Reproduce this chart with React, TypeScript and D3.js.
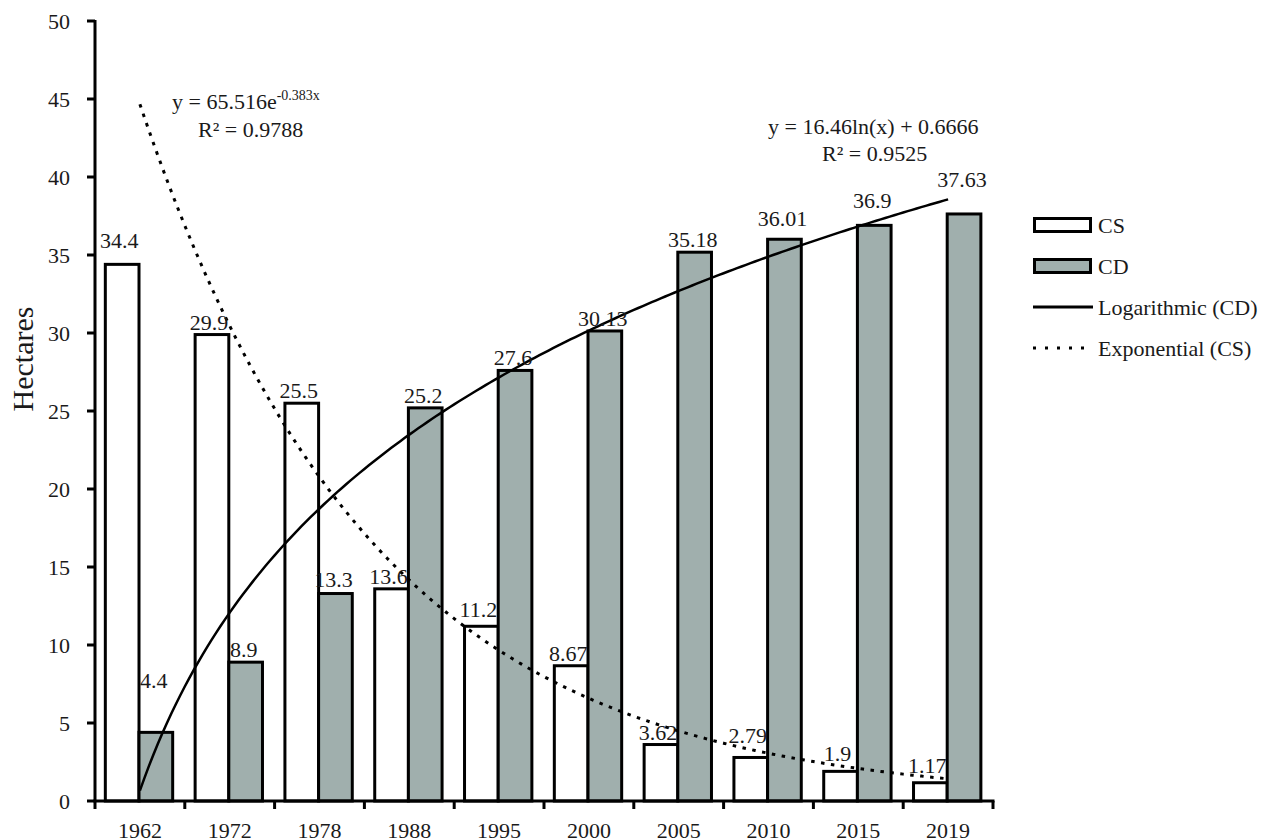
import React from "react";
import * as d3 from "d3";

// Land area (hectares) by survey year
const years = ["1962", "1972", "1978", "1988", "1995", "2000", "2005", "2010", "2015", "2019"];
const csValues = [34.4, 29.9, 25.5, 13.6, 11.2, 8.67, 3.62, 2.79, 1.9, 1.17];
const cdValues = [4.4, 8.9, 13.3, 25.2, 27.6, 30.13, 35.18, 36.01, 36.9, 37.63];
const csLabels = ["34.4", "29.9", "25.5", "13.6", "11.2", "8.67", "3.62", "2.79", "1.9", "1.17"];
const cdLabels = ["4.4", "8.9", "13.3", "25.2", "27.6", "30.13", "35.18", "36.01", "36.9", "37.63"];
const yTicks = [0, 5, 10, 15, 20, 25, 30, 35, 40, 45, 50];

// Fitted trend lines (x = category index, 1-based)
const logCoef = { a: 16.46, b: 0.6666 };
const expCoef = { a: 65.516, k: -0.383 };

// Extra lift (px) applied to a few value labels so they clear the trend lines
const csLabelLift: Record<string, number> = { "1962": 11, "1995": 4, "2010": 9, "2015": 5, "2019": 5 };
const cdLabelLift: Record<string, number> = { "1962": 39, "1978": 2, "2010": 8, "2015": 12, "2019": 22 };

const W = 1261;
const H = 840;
const left = 95;
const right = 993;
const top = 21;
const bottom = 801;
const FONT = "'Liberation Serif', 'Times New Roman', serif";
const TXT = "#1a1a1a";
const CD_FILL = "#a0afad";

export default function App() {
  const x = d3.scaleBand<string>().domain(years).range([left, right]).paddingInner(0).paddingOuter(0);
  const bw = x.bandwidth();
  const y = d3.scaleLinear().domain([0, 50]).range([bottom, top]);
  const xc = d3.scaleLinear().domain([0.5, years.length + 0.5]).range([left, right]);

  const barW = bw * 0.375;
  const csX = (yr: string) => (x(yr) as number) + bw * 0.115;
  const cdX = (yr: string) => (x(yr) as number) + bw * 0.49;

  const ts = d3.range(1, years.length + 0.0001, 0.05);
  const line = d3
    .line<number>()
    .x((t) => xc(t))
    .y((t) => y(0) as number);
  const logPath = d3
    .line<number>()
    .x((t) => xc(t))
    .y((t) => y(logCoef.a * Math.log(t) + logCoef.b))(ts);
  const expPath = d3
    .line<number>()
    .x((t) => xc(t))
    .y((t) => y(expCoef.a * Math.exp(expCoef.k * t)))(ts);
  void line;

  const legendX = 1033;
  const legendW = 59;
  const legendRows = [225, 266, 307, 348];

  return (
    <svg
      width={W}
      height={H}
      style={{ position: "absolute", left: 0, top: 0, background: "#fff" }}
      fontFamily={FONT}
    >
      {/* bars */}
      {years.map((yr, i) => (
        <g key={yr}>
          <rect
            x={csX(yr)}
            y={y(csValues[i])}
            width={barW}
            height={bottom - y(csValues[i])}
            fill="#fff"
            stroke="#000"
            strokeWidth={3}
          />
          <rect
            x={cdX(yr)}
            y={y(cdValues[i])}
            width={barW}
            height={bottom - y(cdValues[i])}
            fill={CD_FILL}
            stroke="#000"
            strokeWidth={3}
          />
        </g>
      ))}

      {/* trend lines */}
      <path d={logPath || ""} fill="none" stroke="#000" strokeWidth={2.5} />
      <path
        d={expPath || ""}
        fill="none"
        stroke="#000"
        strokeWidth={3}
        strokeDasharray="3.5,6.5"
      />

      {/* value labels */}
      {years.map((yr, i) => (
        <g key={"l" + yr} fontSize={22} fill={TXT} textAnchor="middle">
          <text x={csX(yr) + barW / 2 - 3} y={y(csValues[i]) - 5 - (csLabelLift[yr] || 0)}>
            {csLabels[i]}
          </text>
          <text x={cdX(yr) + barW / 2 - 2} y={y(cdValues[i]) - 5 - (cdLabelLift[yr] || 0)}>
            {cdLabels[i]}
          </text>
        </g>
      ))}

      {/* y axis */}
      <line x1={left} x2={left} y1={top - 1} y2={bottom + 1} stroke="#000" strokeWidth={3} />
      {yTicks.map((t) => (
        <g key={t}>
          <line x1={left - 8} x2={left} y1={y(t)} y2={y(t)} stroke="#000" strokeWidth={3} />
          <text
            x={70}
            y={y(t)}
            dy="0.35em"
            fontSize={22}
            fill={TXT}
            textAnchor="end"
          >
            {t}
          </text>
        </g>
      ))}
      <text
        transform={`translate(33, 359) rotate(-90)`}
        fontSize={30}
        fill={TXT}
        textAnchor="middle"
      >
        Hectares
      </text>

      {/* x axis */}
      <line x1={left - 1.5} x2={right + 1.5} y1={bottom} y2={bottom} stroke="#000" strokeWidth={3} />
      {[...years.map((yr) => x(yr) as number), right].map((px, i) => (
        <line key={"t" + i} x1={px} x2={px} y1={bottom} y2={bottom + 8} stroke="#000" strokeWidth={3} />
      ))}
      {years.map((yr) => (
        <text
          key={"x" + yr}
          x={(x(yr) as number) + bw / 2}
          y={838}
          fontSize={22}
          fill={TXT}
          textAnchor="middle"
        >
          {yr}
        </text>
      ))}

      {/* trend equations */}
      <g fontSize={22} fill={TXT}>
        <text x={172} y={109}>
          y = 65.516e
          <tspan fontSize={14} dy={-9}>-0.383x</tspan>
        </text>
        <text x={198} y={137}>R² = 0.9788</text>
        <text x={768} y={134}>y = 16.46ln(x) + 0.6666</text>
        <text x={822} y={161}>R² = 0.9525</text>
      </g>

      {/* legend */}
      <g fontSize={22} fill={TXT}>
        <rect x={legendX + 1.5} y={legendRows[0] - 6.5} width={legendW - 3} height={13} fill="#fff" stroke="#000" strokeWidth={3} />
        <text x={1098} y={legendRows[0]} dy="0.35em">CS</text>
        <rect x={legendX + 1.5} y={legendRows[1] - 6.5} width={legendW - 3} height={13} fill={CD_FILL} stroke="#000" strokeWidth={3} />
        <text x={1098} y={legendRows[1]} dy="0.35em">CD</text>
        <line x1={legendX} x2={legendX + legendW + 1} y1={legendRows[2]} y2={legendRows[2]} stroke="#000" strokeWidth={3} />
        <text x={1098} y={legendRows[2]} dy="0.35em">Logarithmic (CD)</text>
        <line
          x1={legendX}
          x2={legendX + legendW + 1}
          y1={legendRows[3]}
          y2={legendRows[3]}
          stroke="#000"
          strokeWidth={3}
          strokeDasharray="3,9"
        />
        <text x={1098} y={legendRows[3]} dy="0.35em">Exponential (CS)</text>
      </g>
    </svg>
  );
}
